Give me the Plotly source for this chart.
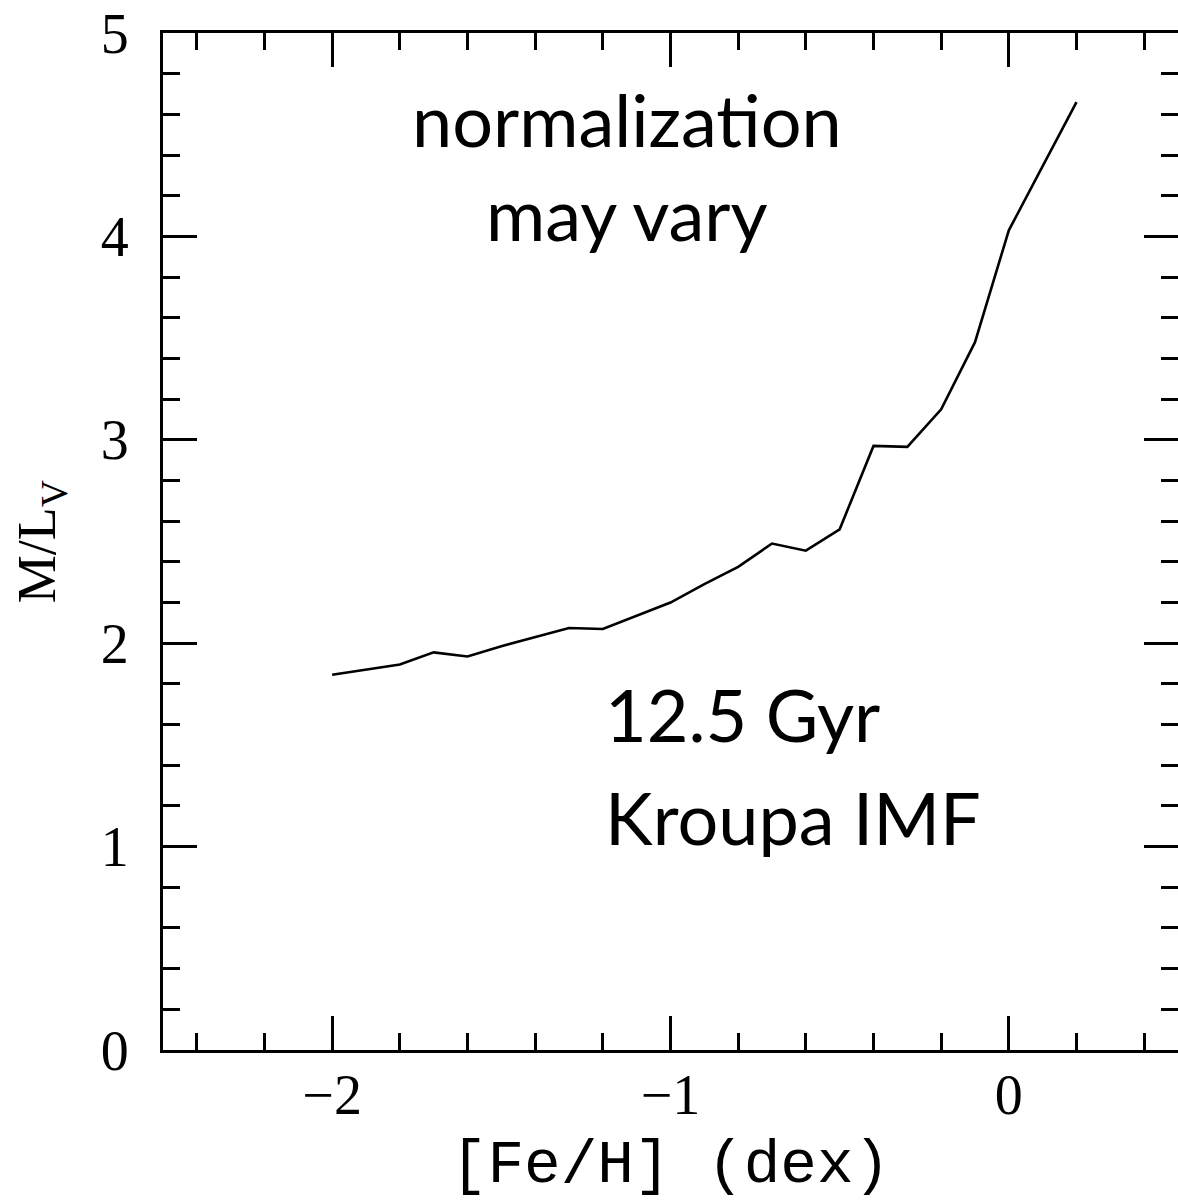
import plotly.graph_objects as go

feh = [-2.0, -1.9, -1.8, -1.7, -1.6, -1.5, -1.4, -1.3, -1.2, -1.1, -1.0, -0.9,
       -0.8, -0.7, -0.6, -0.5, -0.4, -0.3, -0.2, -0.1, 0.0, 0.1, 0.2]
ml_v = [1.845, 1.87, 1.895, 1.955, 1.935, 1.985, 2.03, 2.075, 2.07, 2.135, 2.20, 2.29,
        2.375, 2.49, 2.455, 2.56, 2.97, 2.965, 3.15, 3.48, 4.03, 4.345, 4.66]

x_range = [-2.5, 0.5]
y_range = [0, 5]
x_ticks = [-2, -1, 0]
x_ticklabels = ["\u22122", "\u22121", "0"]
y_ticks = [0, 1, 2, 3, 4, 5]

label_top = "normalization<br>may vary"
label_age = "12.5 Gyr"
label_imf = "Kroupa IMF"

serif = "Liberation Serif"
mono = "Liberation Mono"
sans = "Lato"

fig = go.Figure()
fig.add_trace(go.Scatter(x=feh, y=ml_v, mode="lines",
                         line=dict(color="black", width=2.6),
                         showlegend=False, hoverinfo="skip"))
# invisible trace to anchor the right-hand tick axis
fig.add_trace(go.Scatter(x=[feh[0]], y=[ml_v[0]], yaxis="y2", mode="markers",
                         marker=dict(opacity=0), showlegend=False, hoverinfo="skip"))

fig.update_layout(
    width=1178, height=1200,
    margin=dict(l=163, r=0, t=33, b=150),
    plot_bgcolor="white", paper_bgcolor="white",
    xaxis=dict(
        range=x_range, tickvals=x_ticks, ticktext=x_ticklabels,
        ticks="inside", ticklen=34, tickwidth=3, tickcolor="black",
        showline=True, linewidth=3, linecolor="black", mirror="ticks",
        showgrid=False, zeroline=False,
        minor=dict(dtick=0.2, tick0=0, ticks="inside", ticklen=17, tickwidth=3,
                   tickcolor="black", showgrid=False),
        tickfont=dict(family=serif, size=56, color="black"),
        ticklabelstandoff=-6,
        title=dict(text="[Fe/H] (dex)", font=dict(family=mono, size=61, color="black"),
                   standoff=30),
    ),
    yaxis=dict(
        range=y_range, tickvals=y_ticks,
        ticks="inside", ticklen=34, tickwidth=3, tickcolor="black",
        showline=True, linewidth=3, linecolor="black",
        showgrid=False, zeroline=False,
        minor=dict(dtick=0.2, tick0=0, ticks="inside", ticklen=17, tickwidth=3,
                   tickcolor="black", showgrid=False),
        tickfont=dict(family=serif, size=56, color="black"),
        ticklabelstandoff=20,
        title=dict(text="M/L<sub>V</sub>", font=dict(family=serif, size=54, color="black"),
                   standoff=28),
    ),
    yaxis2=dict(
        range=y_range, overlaying="y", side="right", tickvals=y_ticks,
        ticks="inside", ticklen=34, tickwidth=3, tickcolor="black",
        showline=False, showgrid=False, zeroline=False, showticklabels=False,
        minor=dict(dtick=0.2, tick0=0, ticks="inside", ticklen=17, tickwidth=3,
                   tickcolor="black", showgrid=False),
    ),
    annotations=[
        dict(x=-1.13, y=4.345, xref="x", yref="y", text=label_top, showarrow=False,
             xanchor="center", yanchor="middle", align="center",
             font=dict(family=sans, size=72, color="black")),
        dict(x=-1.20, y=1.653, xref="x", yref="y", text=label_age, showarrow=False,
             xanchor="left", yanchor="middle", align="left",
             font=dict(family=sans, size=72, color="black")),
        dict(x=-1.20, y=1.146, xref="x", yref="y", text=label_imf, showarrow=False,
             xanchor="left", yanchor="middle", align="left",
             font=dict(family=sans, size=72, color="black")),
    ],
)

fig.write_html("out.html")
